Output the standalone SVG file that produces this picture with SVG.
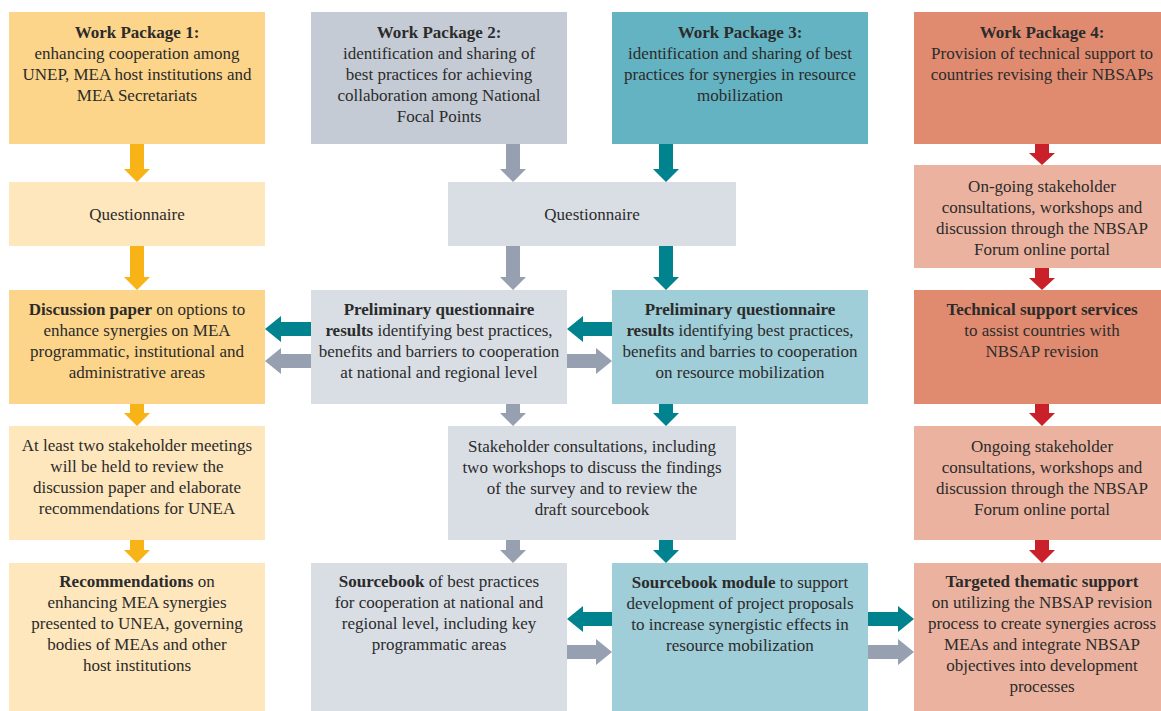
<svg xmlns="http://www.w3.org/2000/svg" width="1161" height="711" viewBox="0 0 1161 711">
<style>
.t{font-family:"Liberation Serif","Times New Roman",serif;font-size:17px;fill:#2b2b2b;text-anchor:middle}
.b{font-weight:bold}
.y1{fill:#FDD58A}.y2{fill:#FEE7BD}
.g1{fill:#C5CBD5}.g2{fill:#D9DEE5}
.c1{fill:#64B3C2}.c2{fill:#9FCDD8}
.r1{fill:#E08B70}.r2{fill:#EBB39F}
.ay{fill:#F8B417}.ag{fill:#96A0B1}.ac{fill:#00838F}.ar{fill:#C9202A}
</style>
<rect width="1161" height="711" fill="#ffffff"/>

<g id="wp1">
<rect class="y1" x="9" y="12" width="256" height="132"/>
<text class="t b" x="137" y="38">Work Package 1:</text>
<text class="t" x="137" y="59">enhancing cooperation among</text>
<text class="t" x="137" y="80">UNEP, MEA host institutions and</text>
<text class="t" x="137" y="101">MEA Secretariats</text>
</g>
<g id="wp2">
<rect class="g1" x="311" y="12" width="256" height="132"/>
<text class="t b" x="439" y="38">Work Package 2:</text>
<text class="t" x="439" y="59">identification and sharing of</text>
<text class="t" x="439" y="80">best practices for achieving</text>
<text class="t" x="439" y="101">collaboration among National</text>
<text class="t" x="439" y="122">Focal Points</text>
</g>
<g id="wp3">
<rect class="c1" x="612" y="12" width="256" height="132"/>
<text class="t b" x="740" y="38">Work Package 3:</text>
<text class="t" x="740" y="59">identification and sharing of best</text>
<text class="t" x="740" y="80">practices for synergies in resource</text>
<text class="t" x="740" y="101">mobilization</text>
</g>
<g id="wp4">
<rect class="r1" x="914" y="12" width="256" height="132"/>
<text class="t b" x="1042" y="38">Work Package 4:</text>
<text class="t" x="1042" y="59">Provision of technical support to</text>
<text class="t" x="1042" y="80">countries revising their NBSAPs</text>
</g>

<g id="q1">
<rect class="y2" x="9" y="182" width="256" height="64"/>
<text class="t" x="137" y="220">Questionnaire</text>
</g>
<g id="q2">
<rect class="g2" x="448" y="182" width="288" height="64"/>
<text class="t" x="592" y="220">Questionnaire</text>
</g>
<g id="wp4-consult1">
<rect class="r2" x="914" y="165" width="256" height="103"/>
<text class="t" x="1042" y="192">On-going stakeholder</text>
<text class="t" x="1042" y="213">consultations, workshops and</text>
<text class="t" x="1042" y="234">discussion through the NBSAP</text>
<text class="t" x="1042" y="255">Forum online portal</text>
</g>

<g id="discussion-paper">
<rect class="y1" x="9" y="290" width="256" height="114"/>
<text class="t" x="137" y="315"><tspan class="b">Discussion paper</tspan> on options to</text>
<text class="t" x="137" y="336">enhance synergies on MEA</text>
<text class="t" x="137" y="357">programmatic, institutional and</text>
<text class="t" x="137" y="378">administrative areas</text>
</g>
<g id="prelim2">
<rect class="g2" x="311" y="290" width="256" height="114"/>
<text class="t b" x="439" y="315">Preliminary questionnaire</text>
<text class="t" x="439" y="336"><tspan class="b">results</tspan> identifying best practices,</text>
<text class="t" x="439" y="357">benefits and barriers to cooperation</text>
<text class="t" x="439" y="378">at national and regional level</text>
</g>
<g id="prelim3">
<rect class="c2" x="612" y="290" width="256" height="114"/>
<text class="t b" x="740" y="315">Preliminary questionnaire</text>
<text class="t" x="740" y="336"><tspan class="b">results</tspan> identifying best practices,</text>
<text class="t" x="740" y="357">benefits and barries to cooperation</text>
<text class="t" x="740" y="378">on resource mobilization</text>
</g>
<g id="tech-support">
<rect class="r1" x="914" y="290" width="256" height="114"/>
<text class="t b" x="1042" y="315">Technical support services</text>
<text class="t" x="1042" y="336">to assist countries with</text>
<text class="t" x="1042" y="357">NBSAP revision</text>
</g>

<g id="meetings">
<rect class="y2" x="9" y="426" width="256" height="114"/>
<text class="t" x="137" y="451">At least two stakeholder meetings</text>
<text class="t" x="137" y="472">will be held to review the</text>
<text class="t" x="137" y="493">discussion paper and elaborate</text>
<text class="t" x="137" y="514">recommendations for UNEA</text>
</g>
<g id="stakeholder-consult">
<rect class="g2" x="448" y="426" width="288" height="114"/>
<text class="t" x="592" y="452">Stakeholder consultations, including</text>
<text class="t" x="592" y="473">two workshops to discuss the findings</text>
<text class="t" x="592" y="494">of the survey and to review the</text>
<text class="t" x="592" y="515">draft sourcebook</text>
</g>
<g id="wp4-consult2">
<rect class="r2" x="914" y="426" width="256" height="114"/>
<text class="t" x="1042" y="452">Ongoing stakeholder</text>
<text class="t" x="1042" y="473">consultations, workshops and</text>
<text class="t" x="1042" y="494">discussion through the NBSAP</text>
<text class="t" x="1042" y="515">Forum online portal</text>
</g>

<g id="recommendations">
<rect class="y2" x="9" y="563" width="256" height="148"/>
<text class="t" x="137" y="587"><tspan class="b">Recommendations</tspan> on</text>
<text class="t" x="137" y="608">enhancing MEA synergies</text>
<text class="t" x="137" y="629">presented to UNEA, governing</text>
<text class="t" x="137" y="650">bodies of MEAs and other</text>
<text class="t" x="137" y="671">host institutions</text>
</g>
<g id="sourcebook">
<rect class="g2" x="311" y="563" width="256" height="148"/>
<text class="t" x="439" y="587"><tspan class="b">Sourcebook</tspan> of best practices</text>
<text class="t" x="439" y="608">for cooperation at national and</text>
<text class="t" x="439" y="629">regional level, including key</text>
<text class="t" x="439" y="650">programmatic areas</text>
</g>
<g id="sourcebook-module">
<rect class="c2" x="612" y="563" width="256" height="148"/>
<text class="t" x="740" y="588"><tspan class="b">Sourcebook module</tspan> to support</text>
<text class="t" x="740" y="609">development of project proposals</text>
<text class="t" x="740" y="630">to increase synergistic effects in</text>
<text class="t" x="740" y="651">resource mobilization</text>
</g>
<g id="targeted-support">
<rect class="r2" x="914" y="563" width="256" height="148"/>
<text class="t b" x="1042" y="587">Targeted thematic support</text>
<text class="t" x="1042" y="608">on utilizing the NBSAP revision</text>
<text class="t" x="1042" y="629">process to create synergies across</text>
<text class="t" x="1042" y="650">MEAs and integrate NBSAP</text>
<text class="t" x="1042" y="671">objectives into development</text>
<text class="t" x="1042" y="692">processes</text>
</g>

<g id="connectors">
<polygon class="ay" points="130,144 144,144 144,169 150,169 137,182 124,169 130,169"/>
<polygon class="ay" points="130,246 144,246 144,277 150,277 137,290 124,277 130,277"/>
<polygon class="ay" points="130,404 144,404 144,413 150,413 137,426 124,413 130,413"/>
<polygon class="ay" points="130,540 144,540 144,550 150,550 137,563 124,550 130,550"/>
<polygon class="ag" points="506,144 520,144 520,169 526,169 513,182 500,169 506,169"/>
<polygon class="ag" points="506,246 520,246 520,277 526,277 513,290 500,277 506,277"/>
<polygon class="ag" points="506,404 520,404 520,413 526,413 513,426 500,413 506,413"/>
<polygon class="ag" points="506,540 520,540 520,550 526,550 513,563 500,550 506,550"/>
<polygon class="ac" points="659,144 673,144 673,169 679,169 666,182 653,169 659,169"/>
<polygon class="ac" points="659,246 673,246 673,277 679,277 666,290 653,277 659,277"/>
<polygon class="ac" points="659,404 673,404 673,413 679,413 666,426 653,413 659,413"/>
<polygon class="ac" points="659,540 673,540 673,550 679,550 666,563 653,550 659,550"/>
<polygon class="ar" points="1035,144 1049,144 1049,153 1055,153 1042,165 1029,153 1035,153"/>
<polygon class="ar" points="1035,268 1049,268 1049,278 1055,278 1042,290 1029,278 1035,278"/>
<polygon class="ar" points="1035,404 1049,404 1049,413 1055,413 1042,426 1029,413 1035,413"/>
<polygon class="ar" points="1035,540 1049,540 1049,550 1055,550 1042,563 1029,550 1035,550"/>
<polygon class="ac" points="311,322 281,322 281,316 265,329 281,342 281,336 311,336"/>
<polygon class="ag" points="311,354 281,354 281,348 265,361 281,374 281,368 311,368"/>
<polygon class="ac" points="612,322 583,322 583,316 567,329 583,342 583,336 612,336"/>
<polygon class="ag" points="567,354 596,354 596,348 612,361 596,374 596,368 567,368"/>
<polygon class="ac" points="612,612 583,612 583,606 567,619 583,632 583,626 612,626"/>
<polygon class="ag" points="567,645 596,645 596,639 612,652 596,665 596,659 567,659"/>
<polygon class="ac" points="868,612 898,612 898,606 914,619 898,632 898,626 868,626"/>
<polygon class="ag" points="868,645 898,645 898,639 914,652 898,665 898,659 868,659"/>
</g>
</svg>
